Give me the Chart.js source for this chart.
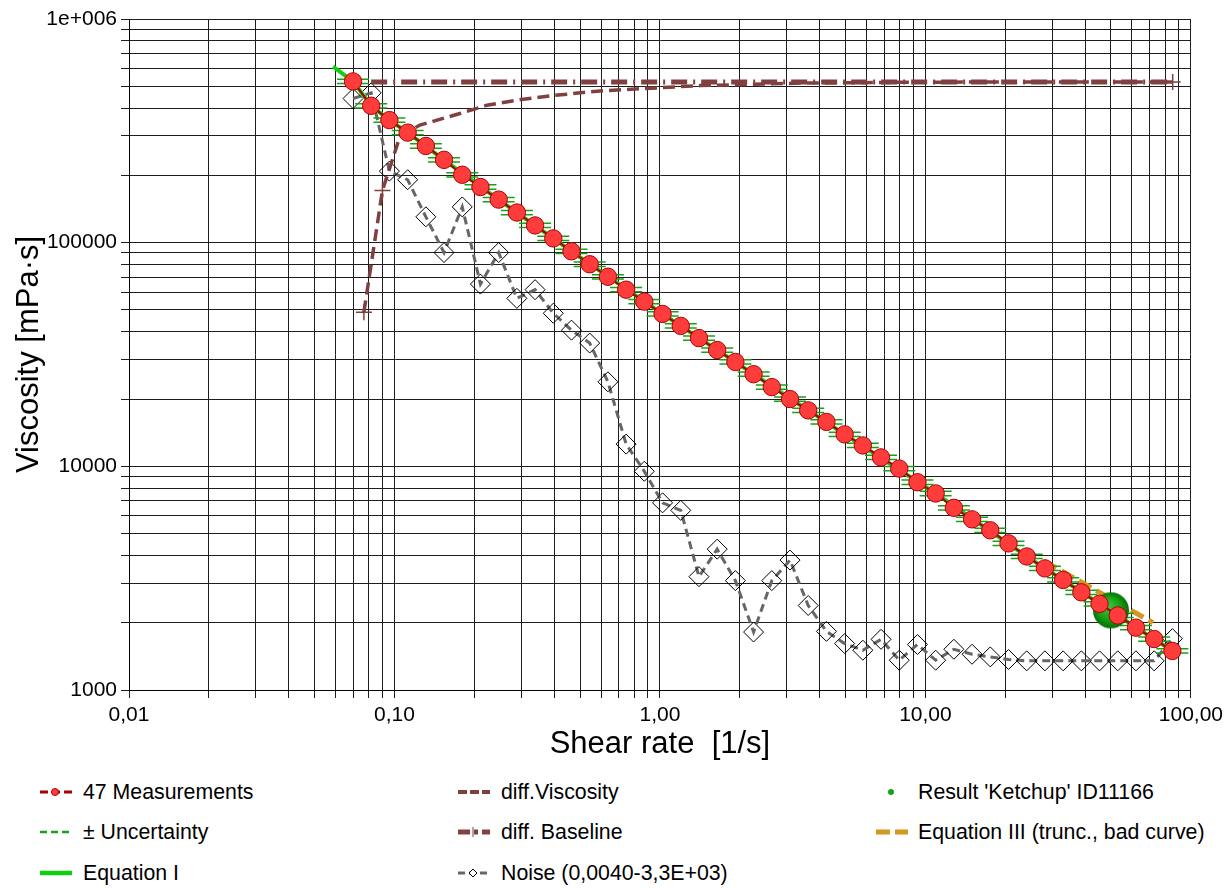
<!DOCTYPE html>
<html>
<head>
<meta charset="utf-8">
<script src="https://cdn.jsdelivr.net/npm/chart.js@4.4.1/dist/chart.umd.min.js"></script>
<style>
  body { margin: 0; background: #fff; font-family: "Liberation Sans", Arial, sans-serif; }
  #wrap { position: relative; width: 1228px; height: 888px; overflow: hidden; }
  #chart { position: absolute; left: 0; top: 0; }
  .sw { position: absolute; }
  .lbl { position: absolute; font-size: 21.3px; line-height: 24px; color: #000; white-space: pre; }
</style>
</head>
<body>
<div id="wrap">
  <canvas id="chart" width="1228" height="770"></canvas>
  <div id="legend"></div>
</div>
<script>
// Viscosity curve, Ketchup sample
const shearRate = [0.0698, 0.0817, 0.0957, 0.1121, 0.1313, 0.1537, 0.18, 0.2108, 0.2469, 0.2891,
  0.3386, 0.3965, 0.4643, 0.5437, 0.6368, 0.7457, 0.8733, 1.023, 1.198, 1.403,
  1.643, 1.924, 2.253, 2.638, 3.09, 3.618, 4.238, 4.963, 5.811, 6.805,
  7.97, 9.333, 10.93, 12.8, 14.99, 17.55, 20.56, 24.07, 28.19, 33.02,
  38.67, 45.28, 53.03, 62.1, 72.73, 85.17];
const viscosity = [526000, 409300, 353200, 310500, 270600, 234600, 201200, 177400, 155800, 136400,
  119400, 104500, 91500, 80100, 70400, 61630, 54500, 48000, 42460, 37440,
  33110, 29290, 25820, 22610, 19990, 17790, 15800, 13900, 12400, 10960,
  9770, 8490, 7562, 6526, 5795, 5178, 4524, 3954, 3497, 3105,
  2734, 2428, 2154, 1900, 1690, 1495];
const noise = [441000, 467500, 208900, 191100, 130500, 90300, 144500, 65260, 90300, 56380,
  61630, 48350, 40630, 35580, 23870, 12570, 9502, 6869, 6355, 3211,
  4263, 3083, 1816, 3083, 3809, 2387, 1829, 1613, 1506, 1685,
  1359, 1597, 1359, 1521, 1445, 1406, 1369, 1350, 1350, 1350,
  1350, 1350, 1350, 1350, 1350, 1697];
const uncertainty = 0.022; // relative, +/-

const diffViscX = [0.0767, 0.0901, 0.1049, 0.1247, 0.1396, 0.1765, 0.2231, 0.2886, 0.3852, 0.5943, 1.415, 3.367, 10, 85.2];
const diffViscY = [48850, 171200, 299000, 335600, 348500, 378200, 411800, 433400, 453300, 477100, 503700, 516800, 522000, 523000];

const baselineX = [0.0817, 85.4];
const baselineY = [523300, 523300];

const eqIX = [0.0587, 0.0698, 0.0817, 0.0957, 0.1121, 0.1537, 0.2469, 0.4643, 1.023, 2.253, 4.963, 10.93, 24.07, 53.03, 85.17];
const eqIY = [612000, 526000, 409300, 353200, 310500, 234600, 155800, 91500, 48000, 25820, 13900, 7562, 3954, 2154, 1495];

const eqIIIX = [28, 72];
const eqIIIY = [3770, 2000];

const resultX = [50];
const resultY = [2270];

const xTickLabels = ["0,01", "0,10", "1,00", "10,00", "100,00"];
const yTickLabels = ["1000", "10000", "100000", "1e+006"];

const RED = "#ff3c3c", DARKRED = "#a80000", BROWN = "#804040", LIME = "#10d010",
  GREEN = "#18a018", GREY = "#666666", ORANGE = "#d4981e";

Chart.defaults.font.family = '"Liberation Sans", Arial, sans-serif';
Chart.defaults.color = "#000";

const pts = (xs, ys) => xs.map((x, i) => ({ x: x, y: ys[i] }));

// grid positions 1..9 per decade
const xGrid = [];
for (let d = -2; d < 2; d++) for (let m = 1; m < 10; m++) xGrid.push(m * Math.pow(10, d));
xGrid.push(100);
const yGrid = [];
for (let d = 3; d < 6; d++) for (let m = 1; m < 10; m++) yGrid.push(m * Math.pow(10, d));
yGrid.push(1e6);

function decadeLabel(v, labels, first) {
  const e = Math.log10(v);
  const r = Math.round(e);
  if (Math.abs(e - r) < 1e-6) return labels[r - first];
  return "";
}

// shaded green ball for the result point
const ball = document.createElement("canvas");
ball.width = 38; ball.height = 38;
(function () {
  const c = ball.getContext("2d");
  const g = c.createRadialGradient(15, 14, 2, 19, 19, 18);
  g.addColorStop(0, "#3cc43c");
  g.addColorStop(0.6, "#12a012");
  g.addColorStop(1, "#067006");
  c.fillStyle = g;
  c.beginPath();
  c.arc(19, 19, 18, 0, Math.PI * 2);
  c.fill();
})();

const upper = viscosity.map((v) => v * (1 + uncertainty));
const lower = viscosity.map((v) => v * (1 - uncertainty));

const ctx = document.getElementById("chart").getContext("2d");
const chart = new Chart(ctx, {
  type: "scatter",
  data: {
    datasets: [
      {
        label: "Noise (0,0040-3,3E+03)",
        type: "line",
        data: pts(shearRate, noise),
        borderColor: GREY,
        borderWidth: 3,
        borderDash: [8, 5],
        pointStyle: "rectRot",
        pointRadius: 10,
        pointBackgroundColor: "rgba(255,255,255,0)",
        pointBorderColor: "#000",
        pointBorderWidth: 1,
        order: 9,
      },
      {
        label: "diff.Viscosity",
        type: "line",
        data: pts(diffViscX, diffViscY),
        borderColor: BROWN,
        borderWidth: 3.5,
        borderDash: [12, 6],
        pointStyle: "cross",
        pointRadius: diffViscX.map((x, i) => (i < 2 ? 8 : 0)),
        pointBorderColor: BROWN,
        pointBorderWidth: 1.5,
        order: 8,
      },
      {
        label: "diff. Baseline",
        type: "line",
        data: pts(baselineX, baselineY),
        borderColor: BROWN,
        borderWidth: 5,
        borderDash: [16, 6, 2, 6],
        pointStyle: "cross",
        pointRadius: [0, 8],
        pointBorderColor: BROWN,
        pointBorderWidth: 1.5,
        order: 7,
      },
      {
        label: "Equation III (trunc., bad curve)",
        type: "line",
        data: pts(eqIIIX, eqIIIY),
        borderColor: ORANGE,
        borderWidth: 5,
        borderDash: [14, 6],
        pointRadius: 0,
        order: 6,
      },
      {
        label: "Equation I",
        type: "line",
        data: pts(eqIX, eqIY),
        borderColor: LIME,
        borderWidth: 4,
        pointRadius: 0,
        order: 5,
      },
      {
        label: "± Uncertainty",
        data: pts(shearRate, upper),
        showLine: false,
        pointStyle: "line",
        pointRadius: 16,
        pointBorderColor: GREEN,
        pointBorderWidth: 1.5,
        order: 4,
      },
      {
        label: "± Uncertainty (lower)",
        data: pts(shearRate, lower),
        showLine: false,
        pointStyle: "line",
        pointRadius: 16,
        pointBorderColor: GREEN,
        pointBorderWidth: 1.5,
        order: 4,
      },
      {
        label: "Result 'Ketchup' ID11166",
        data: pts(resultX, resultY),
        showLine: false,
        pointStyle: ball,
        pointRadius: 18,
        order: 2,
      },
      {
        label: "47 Measurements",
        type: "line",
        data: pts(shearRate, viscosity),
        borderColor: DARKRED,
        borderWidth: 2,
        pointStyle: "circle",
        pointRadius: 8.7,
        pointBackgroundColor: RED,
        pointBorderColor: "#b00000",
        pointBorderWidth: 1,
        order: 1,
      },
    ],
  },
  options: {
    responsive: false,
    animation: false,
    events: [],
    layout: { padding: { top: 15, right: 37, left: 0, bottom: 0 } },
    plugins: { legend: { display: false }, tooltip: { enabled: false } },
    scales: {
      x: {
        type: "logarithmic",
        min: 0.01,
        max: 100,
        afterBuildTicks: (s) => { s.ticks = xGrid.map((v) => ({ value: v })); },
        afterFit: (s) => { s.height = 80; },
        ticks: {
          autoSkip: false, maxRotation: 0, minRotation: 0, padding: 5,
          font: { size: 21 }, color: "#000",
          callback: (v) => decadeLabel(v, xTickLabels, -2),
        },
        grid: { color: "#1e1e1e", lineWidth: 1, tickLength: 8 },
        border: { color: "#000", width: 1 },
        title: {
          display: true, text: "Shear rate  [1/s]", color: "#000",
          font: { size: 31 }, padding: { top: 0, bottom: 7 },
        },
      },
      y: {
        type: "logarithmic",
        min: 1000,
        max: 1e6,
        afterBuildTicks: (s) => { s.ticks = yGrid.map((v) => ({ value: v })); },
        afterFit: (s) => { s.width = 129; },
        ticks: {
          autoSkip: false, padding: 4,
          font: { size: 21 }, color: "#000",
          callback: (v) => decadeLabel(v, yTickLabels, 3),
        },
        grid: { color: "#1e1e1e", lineWidth: 1, tickLength: 8 },
        border: { color: "#000", width: 1 },
        title: {
          display: true, text: "Viscosity [mPa·s]", color: "#000",
          font: { size: 31 }, padding: { top: 11, bottom: 0 },
        },
      },
    },
  },
});

// legend below the chart, three columns
const swatchX = [38, 456, 874];
const textX = [83, 501, 918];
const rowY = [792, 832, 873];
const legendItems = [
  { text: "47 Measurements", col: 0, row: 0, kind: "meas" },
  { text: "± Uncertainty", col: 0, row: 1, kind: "unc" },
  { text: "Equation I", col: 0, row: 2, kind: "eq1" },
  { text: "diff.Viscosity", col: 1, row: 0, kind: "dvisc" },
  { text: "diff. Baseline", col: 1, row: 1, kind: "base" },
  { text: "Noise (0,0040-3,3E+03)", col: 1, row: 2, kind: "noise" },
  { text: "Result 'Ketchup' ID11166", col: 2, row: 0, kind: "result" },
  { text: "Equation III (trunc., bad curve)", col: 2, row: 1, kind: "eq3" },
];

function seg(c, color, width, dash, x0, x1) {
  c.strokeStyle = color;
  c.lineWidth = width;
  c.setLineDash(dash);
  c.beginPath();
  c.moveTo(x0, 10);
  c.lineTo(x1, 10);
  c.stroke();
  c.setLineDash([]);
}

function drawSwatch(c, kind) {
  if (kind === "meas") {
    seg(c, DARKRED, 3, [8, 4], 2, 34);
    c.fillStyle = RED; c.strokeStyle = "#b00000"; c.lineWidth = 1;
    c.beginPath(); c.arc(17, 10, 3.5, 0, Math.PI * 2); c.fill(); c.stroke();
  } else if (kind === "unc") {
    seg(c, GREEN, 2.5, [7, 4], 2, 34);
  } else if (kind === "eq1") {
    seg(c, LIME, 4.5, [], 2, 34);
  } else if (kind === "dvisc") {
    seg(c, BROWN, 4, [9, 3], 2, 34);
  } else if (kind === "base") {
    seg(c, BROWN, 5, [12, 4, 4, 4], 2, 34);
    c.strokeStyle = BROWN; c.lineWidth = 1;
    c.beginPath(); c.moveTo(17, 5); c.lineTo(17, 15); c.stroke();
  } else if (kind === "noise") {
    seg(c, GREY, 3, [7, 4], 2, 34);
    c.fillStyle = "#fff"; c.strokeStyle = "#000"; c.lineWidth = 1;
    c.beginPath(); c.moveTo(17, 6); c.lineTo(21, 10); c.lineTo(17, 14); c.lineTo(13, 10); c.closePath();
    c.fill(); c.stroke();
  } else if (kind === "result") {
    c.fillStyle = GREEN;
    c.beginPath(); c.arc(17, 10, 3, 0, Math.PI * 2); c.fill();
  } else if (kind === "eq3") {
    seg(c, ORANGE, 5, [14, 5], 2, 34);
  }
}

const legend = document.getElementById("legend");
legendItems.forEach((item) => {
  const cv = document.createElement("canvas");
  cv.width = 36; cv.height = 20;
  cv.className = "sw";
  cv.style.left = swatchX[item.col] + "px";
  cv.style.top = rowY[item.row] - 10 + "px";
  drawSwatch(cv.getContext("2d"), item.kind);
  legend.appendChild(cv);

  const span = document.createElement("div");
  span.className = "lbl";
  span.textContent = item.text;
  span.style.left = textX[item.col] + "px";
  span.style.top = rowY[item.row] - 12 + "px";
  legend.appendChild(span);
});
</script>
</body>
</html>
